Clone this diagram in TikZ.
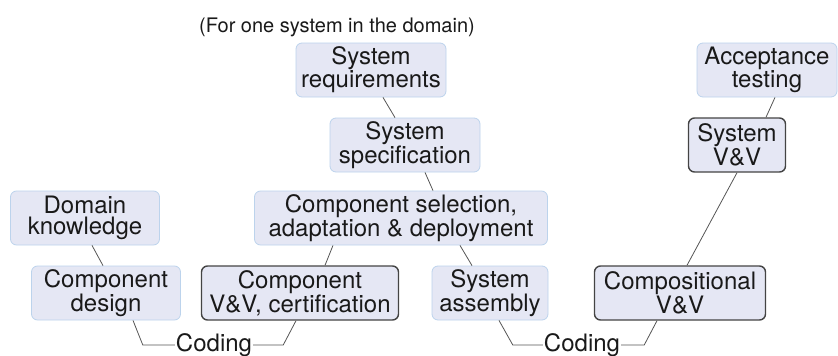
\documentclass[tikz,border=0pt]{standalone}
\usepackage{fontspec}
\setmainfont{TeX Gyre Heros}
\usetikzlibrary{positioning}
\definecolor{boxfill}{HTML}{E5E7F4}
\definecolor{boxline}{HTML}{BCD3EC}
\definecolor{vvline}{HTML}{444444}
\definecolor{linkgray}{HTML}{555555}

\begin{document}
\begin{tikzpicture}[x=1pt, y=-1pt,
    every node/.style={font=\fontsize{24}{20.5}\selectfont, align=center, text=black!90},
    stage/.style={draw=boxline, fill=boxfill, rounded corners=6pt, line width=0.8pt,
        minimum height=54pt, inner xsep=4pt, inner ysep=2pt},
    vvstage/.style={stage, draw=vvline, line width=1.4pt},
    link/.style={draw=linkgray, line width=0.8pt}]
    \useasboundingbox (0,0) rectangle (838,356);

    \node (title) at (337,27) {\fontsize{20}{20}\selectfont(For one system in the domain)};

    % Component side
    \node[stage, minimum width=149pt] (dk) at (85,218) {Domain\\knowledge};
    \node[stage, minimum width=149pt] (cd) at (106,293) {Component\\design};
    \node[vvstage, minimum width=197pt] (cv) at (300,293) {Component\\V\&V, certification};

    % System side
    \node[stage, minimum width=150pt] (sr) at (371,70) {System\\requirements};
    \node[stage, minimum width=150pt] (ss) at (405,145) {System\\specification};
    \node[stage, minimum width=293pt] (cs) at (401,218) {Component selection,\\adaptation \& deployment};
    \node[stage, minimum width=116pt] (sa) at (490,293) {System\\assembly};
    \node[vvstage, minimum width=171pt] (cp) at (680,293) {Compositional\\V\&V};
    \node[vvstage, minimum width=97pt] (sv) at (737,145) {System\\V\&V};
    \node[stage, minimum width=140pt] (at) at (767,70) {Acceptance\\testing};

    % Coding steps
    \node[inner sep=1pt] (c1) at (214,345) {Coding};
    \node[inner sep=1pt] (c2) at (582,345) {Coding};

    % Links
    \draw[link] ([xshift=7pt]dk.south) -- ([xshift=-3pt]cd.north);
    \draw[link] ([xshift=12pt]sr.south) -- ([xshift=-10pt]ss.north);
    \draw[link] ([xshift=20pt]ss.south) -- ([xshift=32pt]cs.north);
    \draw[link] ([xshift=-68pt]cs.south) -- ([xshift=25pt]cv.north);
    \draw[link] ([xshift=59pt]cs.south) -- ([xshift=-18pt]sa.north);
    \draw[link] ([xshift=7pt]cp.north) -- ([xshift=0pt]sv.south);
    \draw[link] ([xshift=29pt]sv.north) -- ([xshift=8pt]at.south);
    \draw[link] ([xshift=27pt]cd.south) -- ([xshift=-32pt]c1.west) -- (c1.west);
    \draw[link] (c1.east) -- ([xshift=30pt]c1.east) -- ([xshift=-4pt]cv.south);
    \draw[link] ([xshift=9pt]sa.south) -- ([xshift=-30pt]c2.west) -- (c2.west);
    \draw[link] (c2.east) -- ([xshift=23pt]c2.east) -- ([xshift=-23pt]cp.south);
\end{tikzpicture}
\end{document}
